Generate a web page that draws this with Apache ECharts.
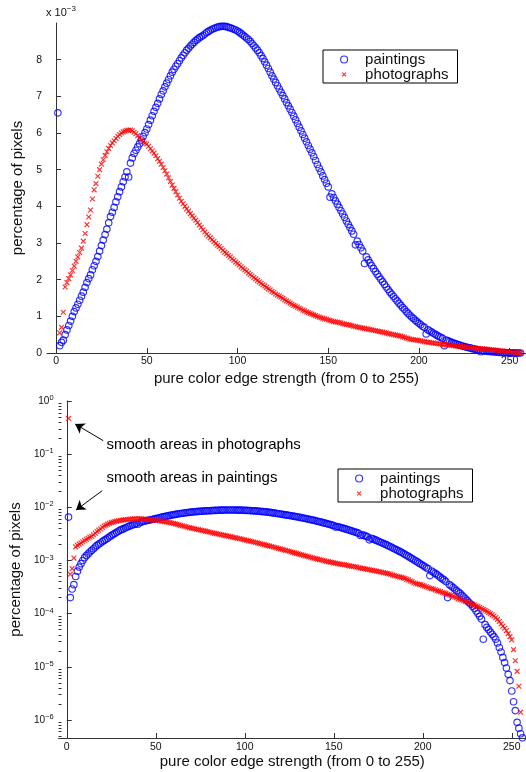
<!DOCTYPE html>
<html>
<head>
<meta charset="utf-8">
<script src="https://cdn.jsdelivr.net/npm/echarts@6/dist/echarts.min.js"></script>
<style>
  html, body { margin: 0; padding: 0; background: #fff; }
  #chart { width: 526px; height: 772px; }
</style>
</head>
<body>
<div id="chart"></div>
<script>
// Histogram of pure color edge strength, bins 0..255 drawn at x = 1..256.
// Values in units of 1e-3 (fraction of pixels).
const paintings = [
  6.55, 0.20, 0.29, 0.35, 0.50, 0.63, 0.75, 0.87, 1.00, 1.13,
  1.23, 1.33, 1.44, 1.55, 1.66, 1.79, 1.92, 2.03, 2.13, 2.27,
  2.38, 2.50, 2.63, 2.78, 2.93, 3.08, 3.23, 3.38, 3.55, 3.72,
  3.84, 3.97, 4.12, 4.26, 4.40, 4.53, 4.67, 4.80, 4.94, 4.80,
  5.18, 5.32, 5.44, 5.53, 5.62, 5.71, 5.81, 5.91, 6.01, 6.11,
  6.23, 6.35, 6.47, 6.59, 6.70, 6.81, 6.93, 7.05, 7.15, 7.26,
  7.36, 7.46, 7.56, 7.66, 7.74, 7.82, 7.89, 7.97, 8.05, 8.12,
  8.19, 8.26, 8.31, 8.37, 8.42, 8.47, 8.52, 8.56, 8.60, 8.63,
  8.66, 8.70, 8.74, 8.77, 8.80, 8.83, 8.85, 8.87, 8.89, 8.90,
  8.91, 8.91, 8.91, 8.90, 8.88, 8.87, 8.85, 8.83, 8.81, 8.78,
  8.75, 8.71, 8.67, 8.63, 8.59, 8.55, 8.50, 8.44, 8.38, 8.32,
  8.26, 8.19, 8.11, 8.03, 7.94, 7.85, 7.76, 7.66, 7.56, 7.47,
  7.38, 7.29, 7.20, 7.11, 7.02, 6.93, 6.83, 6.74, 6.65, 6.56,
  6.46, 6.36, 6.26, 6.16, 6.06, 5.96, 5.86, 5.76, 5.66, 5.56,
  5.46, 5.36, 5.25, 5.14, 5.04, 4.94, 4.83, 4.73, 4.63, 4.53,
  4.25, 4.34, 4.24, 4.15, 4.06, 3.97, 3.88, 3.79, 3.70, 3.60,
  3.51, 3.42, 3.33, 3.24, 2.95, 3.05, 2.96, 2.87, 2.78, 2.44,
  2.62, 2.54, 2.46, 2.38, 2.30, 2.22, 2.15, 2.08, 2.01, 1.94,
  1.87, 1.80, 1.73, 1.66, 1.60, 1.54, 1.48, 1.42, 1.36, 1.30,
  1.24, 1.19, 1.13, 1.08, 1.03, 0.98, 0.94, 0.89, 0.85, 0.81,
  0.77, 0.73, 0.70, 0.52, 0.63, 0.60, 0.57, 0.54, 0.51, 0.48,
  0.45, 0.43, 0.40, 0.20, 0.35, 0.33, 0.31, 0.29, 0.27, 0.255,
  0.24, 0.22, 0.205, 0.19, 0.175, 0.162, 0.15, 0.138, 0.126, 0.112,
  0.100, 0.089, 0.079, 0.033, 0.062, 0.055, 0.050, 0.045, 0.041, 0.037,
  0.033, 0.028, 0.023, 0.019, 0.015, 0.012, 0.0095, 0.0072, 0.0055, 0.0035,
  0.0022, 0.0015, 0.0009, 0.0007, 0.00055, 0.00046
];
const photographs = [
  470, 0.55, 0.70, 1.11, 1.80, 1.92, 2.03, 2.13, 2.25, 2.37,
  2.50, 2.62, 2.74, 2.86, 3.05, 3.26, 3.50, 3.71, 3.90, 4.20,
  4.45, 4.62, 4.82, 5.00, 5.15, 5.27, 5.39, 5.49, 5.58, 5.66,
  5.73, 5.79, 5.85, 5.91, 5.96, 6.00, 6.03, 6.05, 6.07, 6.08,
  6.08, 6.06, 6.02, 5.98, 5.93, 5.86, 5.81, 5.76, 5.72, 5.70,
  5.64, 5.57, 5.51, 5.45, 5.38, 5.30, 5.23, 5.15, 5.06, 4.97,
  4.88, 4.78, 4.68, 4.58, 4.49, 4.40, 4.31, 4.22, 4.14, 4.07,
  4.00, 3.93, 3.87, 3.80, 3.74, 3.68, 3.62, 3.56, 3.49, 3.43,
  3.36, 3.30, 3.24, 3.19, 3.14, 3.09, 3.04, 2.99, 2.94, 2.90,
  2.85, 2.80, 2.75, 2.71, 2.66, 2.62, 2.57, 2.53, 2.48, 2.44,
  2.40, 2.35, 2.31, 2.27, 2.23, 2.18, 2.14, 2.10, 2.06, 2.02,
  1.98, 1.94, 1.90, 1.86, 1.83, 1.79, 1.75, 1.72, 1.68, 1.65,
  1.61, 1.58, 1.55, 1.52, 1.49, 1.45, 1.42, 1.39, 1.36, 1.33,
  1.30, 1.28, 1.25, 1.22, 1.20, 1.17, 1.15, 1.12, 1.10, 1.08,
  1.06, 1.04, 1.02, 1.00, 0.98, 0.96, 0.95, 0.93, 0.92, 0.90,
  0.89, 0.87, 0.86, 0.85, 0.84, 0.83, 0.82, 0.80, 0.79, 0.78,
  0.77, 0.76, 0.75, 0.73, 0.72, 0.71, 0.70, 0.69, 0.68, 0.67,
  0.66, 0.65, 0.64, 0.63, 0.62, 0.61, 0.60, 0.59, 0.58, 0.57,
  0.56, 0.55, 0.53, 0.52, 0.51, 0.50, 0.49, 0.48, 0.47, 0.46,
  0.44, 0.43, 0.41, 0.40, 0.38, 0.37, 0.36, 0.355, 0.35, 0.34,
  0.33, 0.32, 0.31, 0.30, 0.295, 0.29, 0.28, 0.27, 0.265, 0.26,
  0.25, 0.245, 0.24, 0.23, 0.225, 0.22, 0.21, 0.205, 0.20, 0.19,
  0.185, 0.18, 0.175, 0.17, 0.165, 0.16, 0.155, 0.15, 0.145, 0.14,
  0.135, 0.13, 0.125, 0.12, 0.115, 0.11, 0.105, 0.10, 0.095, 0.090,
  0.084, 0.078, 0.071, 0.064, 0.058, 0.053, 0.048, 0.042, 0.037, 0.032,
  0.021, 0.013, 0.0082, 0.0043, 0.0014, 0.0003
];

const xTicks = [0, 50, 100, 150, 200, 250];
const linTicks = [0, 1, 2, 3, 4, 5, 6, 7, 8];
const logTicks = [1e-6, 1e-5, 1e-4, 1e-3, 1e-2, 1e-1, 1];
const logMin = Math.pow(10, -6.34);
const minorLogTicks = [];
for (let e = -7; e < 0; e++) {
  for (let m = 2; m <= 9; m++) {
    const v = m * Math.pow(10, e);
    if (v >= logMin && v <= 1) minorLogTicks.push(v);
  }
}

// annotation anchors in data coordinates of the lower (log) plot
const arrowPhotos = [[20.5, 0.179], [4.7, 0.369]];
const arrowPaint = [[19.9, 0.0205], [5.2, 0.00889]];
const textPhotos = [22.3, 0.1486];
const textPaint = [22.3, 0.0351];

const FONT = 'Liberation Sans, Arial, Helvetica, sans-serif';
const AX = '#333';
const TXT = '#111';
const xPath = 'path://M0,0L10,10M10,0L0,10';
const xLegendPath = 'path://M-4,-4M14,14M0,0L10,10M10,0L0,10';

const ptsTop = (arr) => arr.map((v, i) => [i + 1, v]);
const ptsLog = (arr) => arr.map((v, i) => [i + 1, v * 1e-3]);

const circleStyle = { color: 'rgba(0,0,0,0)', borderColor: '#0000ff', borderWidth: 1.15 };
const crossStyle = { color: 'rgba(0,0,0,0)', borderColor: '#ff0000', borderWidth: 1.2 };

function xAxisCfg(grid, min, max, gap, margin) {
  return {
    gridIndex: grid, type: 'value', min: min, max: max,
    axisLine: { show: true, onZero: false, lineStyle: { color: AX, width: 1 } },
    axisTick: { show: true, inside: true, length: 5, customValues: xTicks, lineStyle: { color: AX } },
    axisLabel: { customValues: xTicks, fontSize: 10.5, color: TXT, fontFamily: FONT, margin: margin },
    splitLine: { show: false },
    name: 'pure color edge strength (from 0 to 255)',
    nameLocation: 'middle', nameGap: gap,
    nameTextStyle: { fontSize: 15, color: TXT, fontFamily: FONT }
  };
}

function legendCfg(left, top) {
  return {
    orient: 'vertical', left: left, top: top,
    itemWidth: 32, itemHeight: 7, itemGap: 0,
    padding: [2, 9, 1, 17],
    borderColor: '#000', borderWidth: 1, backgroundColor: '#fff',
    selectedMode: false,
    textStyle: { fontSize: 15, color: TXT, fontFamily: FONT },
    data: [
      { name: 'paintings', icon: 'circle', itemStyle: circleStyle },
      { name: 'photographs', icon: xLegendPath, itemStyle: crossStyle }
    ]
  };
}

const chart = echarts.init(document.getElementById('chart'), null, { renderer: 'canvas' });
chart.setOption({
  animation: false,
  backgroundColor: '#fff',
  textStyle: { fontFamily: FONT },
  grid: [
    { left: 47, top: 23, width: 479, height: 330 },
    { left: 55, top: 401, width: 471, height: 337 }
  ],
  legend: [legendCfg(323, 50), legendCfg(338, 469)],
  xAxis: [
    xAxisCfg(0, -5, 259, 18, 3),
    xAxisCfg(1, -4.6, 258, 15, 4)
  ],
  yAxis: [
    {
      gridIndex: 0, type: 'value', min: 0, max: 9, position: 'left',
      axisLine: { show: true, lineStyle: { color: AX, width: 1 } },
      axisTick: { show: true, inside: true, length: 5, customValues: linTicks, lineStyle: { color: AX } },
      axisLabel: { customValues: linTicks, fontSize: 10.5, color: TXT, fontFamily: FONT, margin: 5 },
      splitLine: { show: false },
      name: 'percentage of pixels', nameLocation: 'middle', nameGap: 22,
      nameTextStyle: { fontSize: 15, color: TXT, fontFamily: FONT }
    },
    {
      gridIndex: 0, type: 'value', min: 0, max: 9, position: 'left',
      axisLine: { show: false }, axisTick: { show: false }, axisLabel: { show: false },
      splitLine: { show: false },
      name: '{b|x 10}{s|−3}', nameLocation: 'end', nameGap: 3,
      nameTextStyle: {
        align: 'left', verticalAlign: 'bottom', padding: [0, 0, 0, -1],
        rich: {
          b: { fontSize: 11, color: TXT, fontFamily: FONT, lineHeight: 15 },
          s: { fontSize: 8, color: TXT, fontFamily: FONT, verticalAlign: 'top', lineHeight: 9 }
        }
      }
    },
    {
      gridIndex: 1, type: 'log', logBase: 10, min: logMin, max: 1, position: 'left',
      axisLine: { show: true, lineStyle: { color: AX, width: 1 } },
      axisTick: { show: true, inside: true, length: 5, customValues: logTicks, lineStyle: { color: AX } },
      axisLabel: {
        customValues: logTicks, margin: 5,
        formatter: function (v) {
          const e = Math.round(Math.log10(v));
          return '{b|10}{s|' + (e < 0 ? '−' + (-e) : String(e)) + '}';
        },
        rich: {
          b: { fontSize: 10, color: TXT, fontFamily: FONT, lineHeight: 14 },
          s: { fontSize: 7.5, color: TXT, fontFamily: FONT, verticalAlign: 'top', lineHeight: 9 }
        }
      },
      splitLine: { show: false },
      name: 'percentage of pixels', nameLocation: 'middle', nameGap: 31,
      nameTextStyle: { fontSize: 15, color: TXT, fontFamily: FONT }
    },
    {
      gridIndex: 1, type: 'log', logBase: 10, min: logMin, max: 1, position: 'left',
      axisLine: { show: false },
      axisTick: { show: true, inside: true, length: 3, customValues: minorLogTicks, lineStyle: { color: AX } },
      axisLabel: { show: false },
      splitLine: { show: false }
    }
  ],
  series: [
    {
      name: 'paintings', type: 'scatter', xAxisIndex: 0, yAxisIndex: 0,
      symbol: 'circle', symbolSize: 6.5, itemStyle: circleStyle, silent: true,
      data: ptsTop(paintings), clip: true
    },
    {
      name: 'photographs', type: 'scatter', xAxisIndex: 0, yAxisIndex: 0,
      symbol: xPath, symbolSize: 4.8, itemStyle: crossStyle, silent: true,
      data: ptsTop(photographs), clip: true
    },
    {
      name: 'paintings', type: 'scatter', xAxisIndex: 1, yAxisIndex: 2,
      symbol: 'circle', symbolSize: 6.5, itemStyle: circleStyle, silent: true,
      data: ptsLog(paintings), clip: true
    },
    {
      name: 'photographs', type: 'scatter', xAxisIndex: 1, yAxisIndex: 2,
      symbol: xPath, symbolSize: 4.8, itemStyle: crossStyle, silent: true,
      data: ptsLog(photographs), clip: true,
      markLine: {
        silent: true, symbol: ['none', 'arrow'], symbolSize: 9,
        lineStyle: { color: '#000', width: 1, type: 'solid' },
        label: { show: false },
        emphasis: { disabled: true },
        data: [
          [{ coord: arrowPhotos[0] }, { coord: arrowPhotos[1] }],
          [{ coord: arrowPaint[0] }, { coord: arrowPaint[1] }]
        ]
      },
      markPoint: {
        silent: true, symbol: 'circle', symbolSize: 0,
        itemStyle: { color: 'rgba(0,0,0,0)' },
        label: { show: true, position: 'right', distance: 0, formatter: '{b}',
                 fontSize: 15, color: '#000', fontFamily: FONT },
        data: [
          { name: 'smooth areas in photographs', coord: textPhotos },
          { name: 'smooth areas in paintings', coord: textPaint }
        ]
      }
    }
  ]
});
</script>
</body>
</html>
